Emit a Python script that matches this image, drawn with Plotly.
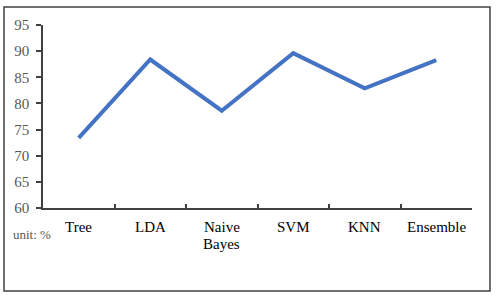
import plotly.graph_objects as go

categories = ["Tree", "LDA", "Naive<br>Bayes", "SVM", "KNN", "Ensemble"]
accuracy = [73.4, 88.4, 78.6, 89.6, 82.9, 88.3]
y_ticks = [60, 65, 70, 75, 80, 85, 90, 95]

W, H = 499, 297
L, R, T, B = 43, 27, 25, 89
pw, ph = W - L - R, H - T - B
SERIF = "'Times New Roman', 'Liberation Serif', 'DejaVu Serif', serif"

def px(x):
    return (x - L) / pw

def py(y):
    return (H - B - y) / ph

fig = go.Figure()
fig.add_trace(go.Scatter(
    x=list(range(len(categories))), y=accuracy, mode="lines",
    line=dict(color="#4472C4", width=4), hoverinfo="skip"))

fig.update_layout(
    width=W, height=H,
    margin=dict(l=L, r=R, t=T, b=B),
    paper_bgcolor="white", plot_bgcolor="white",
    showlegend=False,
    font=dict(family=SERIF, size=15, color="black"),
    xaxis=dict(
        range=[-0.5, len(categories) - 0.5],
        tickmode="array",
        tickvals=[i - 0.5 for i in range(len(categories) + 1)],
        ticktext=[""] * (len(categories) + 1),
        ticks="inside", ticklen=4, tickcolor="#404040", tickwidth=1.5,
        showline=True, linecolor="#404040", linewidth=1.5,
        showgrid=False, zeroline=False, fixedrange=True,
    ),
    yaxis=dict(
        range=[60, 95],
        tickmode="array", tickvals=y_ticks,
        ticks="outside", ticklen=5, tickcolor="#404040", tickwidth=1.5,
        showline=True, linecolor="#404040", linewidth=1.5,
        showgrid=False, zeroline=False, fixedrange=True,
        tickfont=dict(family=SERIF, size=15, color="#595959"),
        ticklabelstandoff=4,
    ),
    shapes=[dict(
        type="rect", xref="paper", yref="paper",
        x0=px(4), x1=px(490), y0=py(291), y1=py(7),
        line=dict(color="#404040", width=1.5), fillcolor="rgba(0,0,0,0)",
        layer="below")],
)

annotations = []
for i, c in enumerate(categories):
    for j, line in enumerate(c.split("<br>")):
        annotations.append(dict(
            x=i, y=py(227 + 16.5 * j), xref="x", yref="paper", text=line,
            showarrow=False, xanchor="center", yanchor="middle",
            font=dict(family=SERIF, size=15, color="black")))
annotations.append(dict(
    x=px(11), y=py(234), xref="paper", yref="paper", text="unit: %",
    showarrow=False, xanchor="left", yanchor="middle",
    font=dict(family=SERIF, size=13, color="#595959")))
fig.update_layout(annotations=annotations)

fig.write_html("out.html", config={"displayModeBar": False},
               post_script="document.body.style.margin='0';document.body.style.overflow='hidden';")
